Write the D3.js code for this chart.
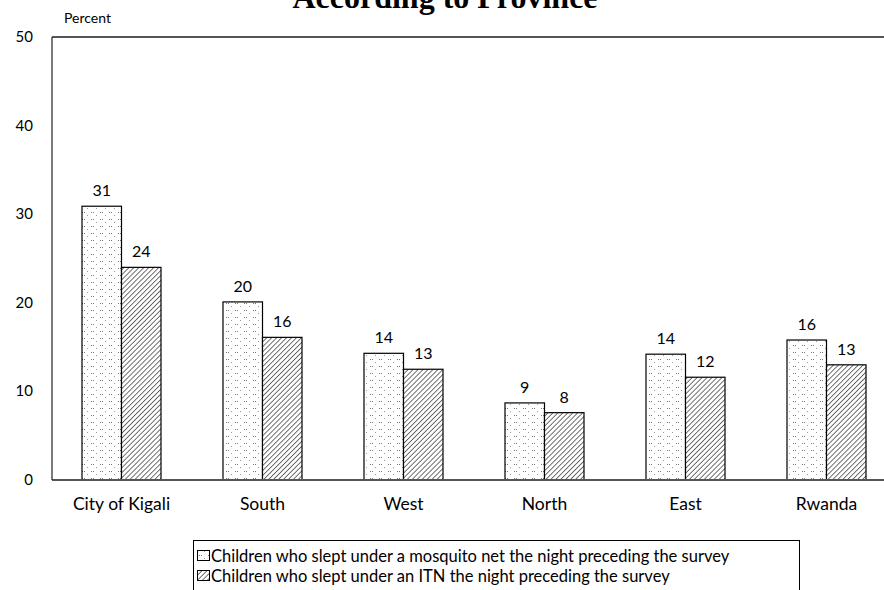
<!DOCTYPE html>
<html><head><meta charset="utf-8">
<script src="https://cdn.jsdelivr.net/npm/d3@7"></script>
<style>body{margin:0;background:#fff}svg{display:block}</style>
</head><body>
<script>
const categories = ["City of Kigali","South","West","North","East","Rwanda"];
const netValues = [30.9,20.1,14.3,8.7,14.2,15.8];
const itnValues = [24.0,16.1,12.5,7.6,11.6,13.0];
const netLabels = ["31","20","14","9","14","16"];
const itnLabels = ["24","16","13","8","12","13"];
const yTicks = [0,10,20,30,40,50];
const seriesNames = ["Children who slept under a mosquito net the night preceding the survey",
                     "Children who slept under an ITN the night preceding the survey"];

const W=884,H=590;
const svg=d3.select("body").append("svg").attr("width",W).attr("height",H);
const defs=svg.append("defs");
const pd=defs.append("pattern").attr("id","dots").attr("patternUnits","userSpaceOnUse").attr("width",9).attr("height",7);
pd.append("rect").attr("width",9).attr("height",7).attr("fill","#fff");
pd.append("rect").attr("x",1).attr("y",2).attr("width",1).attr("height",1).attr("fill","#777");
pd.append("rect").attr("x",3).attr("y",2).attr("width",1).attr("height",1).attr("fill","#777");
pd.append("rect").attr("x",6).attr("y",5).attr("width",1).attr("height",1).attr("fill","#999");
const ph=defs.append("pattern").attr("id","hatch").attr("patternUnits","userSpaceOnUse").attr("width",3.5).attr("height",3.5).attr("patternTransform","rotate(45)");
ph.append("rect").attr("width",3.5).attr("height",3.5).attr("fill","#fff");
ph.append("line").attr("x1",0).attr("y1",0).attr("x2",0).attr("y2",3.5).attr("stroke","#333").attr("stroke-width",1.4);

const m={l:52};
const x=d3.scaleBand().domain(categories).range([51,897]).paddingInner(0).paddingOuter(0);
const y=d3.scaleLinear().domain([0,50]).range([480,37]);
const bw=39.5;
const font="Lato, 'Open Sans', sans-serif";

// title
svg.append("text").attr("x",445).attr("y",8).attr("text-anchor","middle")
  .attr("font-family","'Liberation Serif', serif").attr("font-weight","bold").attr("font-size",32).text("According to Province");
svg.append("text").attr("x",64).attr("y",23).attr("font-family",font).attr("font-size",14).text("Percent");

// y tick labels
svg.selectAll(".yt").data(yTicks).enter().append("text")
  .attr("x",33).attr("y",d=>y(d)+5).attr("text-anchor","end")
  .attr("font-family",font).attr("font-size",15).text(d=>d);

const g=svg.append("g");
categories.forEach((c,i)=>{
  const cx=x(c)+x.bandwidth()/2;
  g.append("rect").attr("x",cx-bw).attr("y",y(netValues[i])).attr("width",bw).attr("height",y(0)-y(netValues[i]))
    .attr("fill","url(#dots)").attr("stroke","#000").attr("stroke-width",1.2);
  g.append("rect").attr("x",cx).attr("y",y(itnValues[i])).attr("width",bw).attr("height",y(0)-y(itnValues[i]))
    .attr("fill","url(#hatch)").attr("stroke","#000").attr("stroke-width",1.2);
  g.append("text").attr("x",cx-bw/2).attr("y",y(netValues[i])-10).attr("text-anchor","middle")
    .attr("font-family",font).attr("font-size",16).text(netLabels[i]);
  g.append("text").attr("x",cx+bw/2).attr("y",y(itnValues[i])-10).attr("text-anchor","middle")
    .attr("font-family",font).attr("font-size",16).text(itnLabels[i]);
  g.append("text").attr("x",cx).attr("y",510).attr("text-anchor","middle")
    .attr("font-family",font).attr("font-size",17.5).text(c);
});

// axes lines
svg.append("line").attr("x1",m.l).attr("x2",W).attr("y1",y(50)).attr("y2",y(50)).attr("stroke","#555").attr("stroke-width",2);
svg.append("line").attr("x1",m.l).attr("x2",W).attr("y1",y(0)).attr("y2",y(0)).attr("stroke","#555").attr("stroke-width",2);
svg.append("line").attr("x1",m.l).attr("x2",m.l).attr("y1",y(50)).attr("y2",y(0)).attr("stroke","#222").attr("stroke-width",1.2);

// legend
const lg=svg.append("g");
lg.append("rect").attr("x",193.5).attr("y",540.5).attr("width",606).attr("height",60).attr("fill","none").attr("stroke","#000").attr("stroke-width",1);
seriesNames.forEach((s,i)=>{
  const yy=557+i*20;
  lg.append("rect").attr("x",197.5).attr("y",yy-6.5).attr("width",12).attr("height",10)
    .attr("fill",i===0?"url(#dots)":"url(#hatch)").attr("stroke","#000").attr("stroke-width",1);
  lg.append("text").attr("x",211).attr("y",yy+5).attr("font-family",font).attr("font-size",16.5).text(s);
});
</script>
</body></html>
